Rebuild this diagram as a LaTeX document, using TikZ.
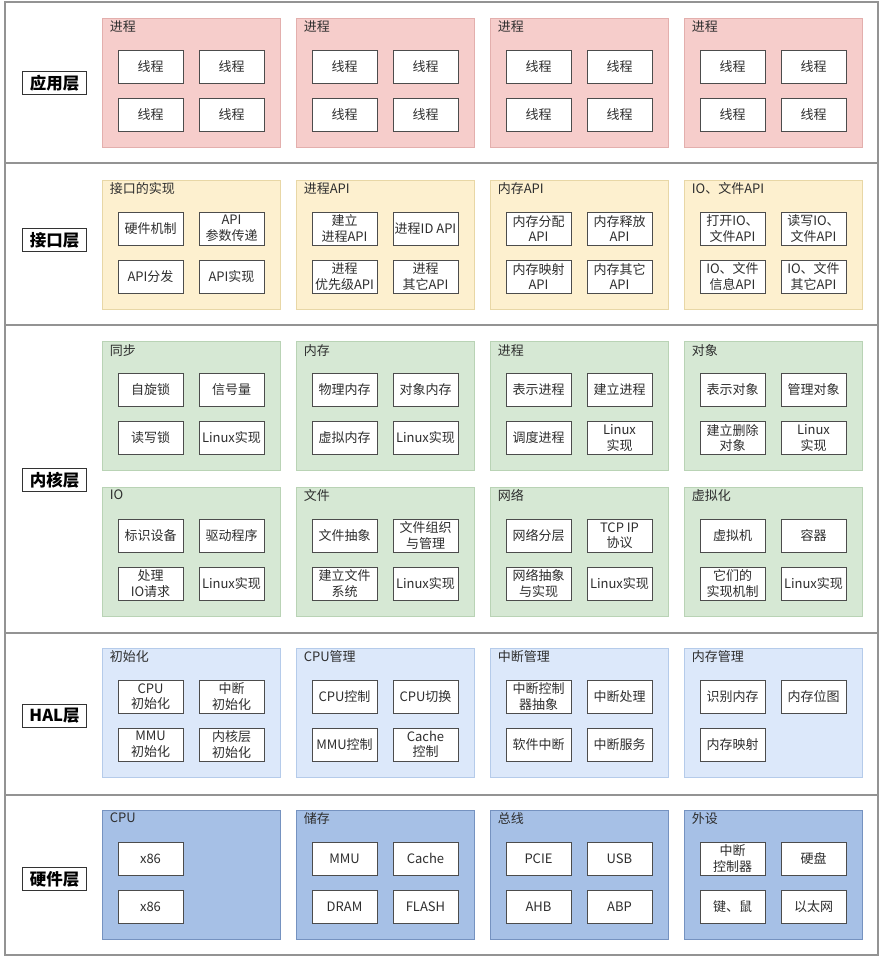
\documentclass[tikz,border=0pt]{standalone}
\usepackage{fontspec}
\setmainfont{Noto Sans CJK SC}
\usepackage{tikz}
\usetikzlibrary{shapes,positioning,backgrounds}

\definecolor{appFill}{HTML}{F6CDCB}
\definecolor{appLine}{HTML}{E3AFAD}
\definecolor{apiFill}{HTML}{FDF0CF}
\definecolor{apiLine}{HTML}{E8D7A6}
\definecolor{kernFill}{HTML}{D6E8D4}
\definecolor{kernLine}{HTML}{B9D3B5}
\definecolor{halFill}{HTML}{DCE8FA}
\definecolor{halLine}{HTML}{B5CBEA}
\definecolor{hwFill}{HTML}{A6C0E6}
\definecolor{hwLine}{HTML}{7592C0}
\definecolor{txt}{HTML}{2E2E2E}

\begin{document}
\begin{tikzpicture}[x=1pt, y=-1pt]
		\tikzstyle{Row}		= [rectangle, draw=gray!85, line width=1.1pt, fill=white, minimum width=873pt, inner sep=0pt]
		\tikzstyle{Layer}	= [rectangle, draw=black!80, line width=1pt, fill=white, inner xsep=7pt, inner ysep=3.5pt, font=\fontsize{16.5}{18}\selectfont\bfseries, text=black]
		\tikzstyle{Group}	= [rectangle, line width=0.8pt, minimum width=178pt, minimum height=129pt, inner sep=0pt]
		\tikzstyle{Title}	= [anchor=north west, inner sep=0pt, xshift=8pt, yshift=-3pt, font=\fontsize{13}{15}\selectfont, text=txt]
		\tikzstyle{Cell}	= [rectangle, draw=black!70, line width=1pt, fill=white, minimum width=65pt, minimum height=33pt, inner sep=1pt, align=center, font=\fontsize{13}{15.5}\selectfont, text=txt]
		\tikzstyle{App}		= [draw=appLine, fill=appFill]
		\tikzstyle{Api}		= [draw=apiLine, fill=apiFill]
		\tikzstyle{Kern}	= [draw=kernLine, fill=kernFill]
		\tikzstyle{Hal}		= [draw=halLine, fill=halFill]
		\tikzstyle{Hw}		= [draw=hwLine, fill=hwFill]

		\useasboundingbox (0,0) rectangle (883,959);

		% layer rows
		\node (rApp) at (441.5, 82.5) [Row, minimum height=161pt] {};
		\node (rApi) at (441.5, 244) [Row, minimum height=162pt] {};
		\node (rKern) at (441.5, 479) [Row, minimum height=308pt] {};
		\node (rHal) at (441.5, 714) [Row, minimum height=162pt] {};
		\node (rHw) at (441.5, 875) [Row, minimum height=160pt] {};

		\node (lApp) at (54.5, 83) [Layer] {应用层};
		\node (lApi) at (54.5, 240) [Layer] {接口层};
		\node (lKern) at (54.5, 480) [Layer] {内核层};
		\node (lHal) at (54.5, 716) [Layer] {HAL层};
		\node (lHw) at (54.5, 879) [Layer] {硬件层};

		% application layer
		\node (gApp1) at (191, 82.5) [Group][App] {};
		\node (gApp2) at (385, 82.5) [Group][App] {};
		\node (gApp3) at (579, 82.5) [Group][App] {};
		\node (gApp4) at (773, 82.5) [Group][App] {};
		\node (tApp1) at (gApp1.north west) [Title] {进程};
		\node (tApp2) at (gApp2.north west) [Title] {进程};
		\node (tApp3) at (gApp3.north west) [Title] {进程};
		\node (tApp4) at (gApp4.north west) [Title] {进程};

		\node (cApp1a) at (150.5, 66.5) [Cell] {线程};
		\node (cApp1b) at (231.5, 66.5) [Cell] {线程};
		\node (cApp1c) at (150.5, 114.5) [Cell] {线程};
		\node (cApp1d) at (231.5, 114.5) [Cell] {线程};
		\node (cApp2a) at (344.5, 66.5) [Cell] {线程};
		\node (cApp2b) at (425.5, 66.5) [Cell] {线程};
		\node (cApp2c) at (344.5, 114.5) [Cell] {线程};
		\node (cApp2d) at (425.5, 114.5) [Cell] {线程};
		\node (cApp3a) at (538.5, 66.5) [Cell] {线程};
		\node (cApp3b) at (619.5, 66.5) [Cell] {线程};
		\node (cApp3c) at (538.5, 114.5) [Cell] {线程};
		\node (cApp3d) at (619.5, 114.5) [Cell] {线程};
		\node (cApp4a) at (732.5, 66.5) [Cell] {线程};
		\node (cApp4b) at (813.5, 66.5) [Cell] {线程};
		\node (cApp4c) at (732.5, 114.5) [Cell] {线程};
		\node (cApp4d) at (813.5, 114.5) [Cell] {线程};

		% interface layer
		\node (gApi1) at (191, 244.5) [Group][Api] {};
		\node (gApi2) at (385, 244.5) [Group][Api] {};
		\node (gApi3) at (579, 244.5) [Group][Api] {};
		\node (gApi4) at (773, 244.5) [Group][Api] {};
		\node (tApi1) at (gApi1.north west) [Title] {接口的实现};
		\node (tApi2) at (gApi2.north west) [Title] {进程API};
		\node (tApi3) at (gApi3.north west) [Title] {内存API};
		\node (tApi4) at (gApi4.north west) [Title] {IO、文件API};

		\node (cApi1a) at (150.5, 228.5) [Cell] {硬件机制};
		\node (cApi1b) at (231.5, 228.5) [Cell] {API\\参数传递};
		\node (cApi1c) at (150.5, 276.5) [Cell] {API分发};
		\node (cApi1d) at (231.5, 276.5) [Cell] {API实现};
		\node (cApi2a) at (344.5, 228.5) [Cell] {建立\\进程API};
		\node (cApi2b) at (425.5, 228.5) [Cell] {进程ID API};
		\node (cApi2c) at (344.5, 276.5) [Cell] {进程\\优先级API};
		\node (cApi2d) at (425.5, 276.5) [Cell] {进程\\其它API};
		\node (cApi3a) at (538.5, 228.5) [Cell] {内存分配\\API};
		\node (cApi3b) at (619.5, 228.5) [Cell] {内存释放\\API};
		\node (cApi3c) at (538.5, 276.5) [Cell] {内存映射\\API};
		\node (cApi3d) at (619.5, 276.5) [Cell] {内存其它\\API};
		\node (cApi4a) at (732.5, 228.5) [Cell] {打开IO、\\文件API};
		\node (cApi4b) at (813.5, 228.5) [Cell] {读写IO、\\文件API};
		\node (cApi4c) at (732.5, 276.5) [Cell] {IO、文件\\信息API};
		\node (cApi4d) at (813.5, 276.5) [Cell] {IO、文件\\其它API};

		% kernel layer, upper row
		\node (gKern1) at (191, 406) [Group][Kern] {};
		\node (gKern2) at (385, 406) [Group][Kern] {};
		\node (gKern3) at (579, 406) [Group][Kern] {};
		\node (gKern4) at (773, 406) [Group][Kern] {};
		\node (tKern1) at (gKern1.north west) [Title] {同步};
		\node (tKern2) at (gKern2.north west) [Title] {内存};
		\node (tKern3) at (gKern3.north west) [Title] {进程};
		\node (tKern4) at (gKern4.north west) [Title] {对象};

		\node (cKern1a) at (150.5, 390) [Cell] {自旋锁};
		\node (cKern1b) at (231.5, 390) [Cell] {信号量};
		\node (cKern1c) at (150.5, 438) [Cell] {读写锁};
		\node (cKern1d) at (231.5, 438) [Cell] {Linux实现};
		\node (cKern2a) at (344.5, 390) [Cell] {物理内存};
		\node (cKern2b) at (425.5, 390) [Cell] {对象内存};
		\node (cKern2c) at (344.5, 438) [Cell] {虚拟内存};
		\node (cKern2d) at (425.5, 438) [Cell] {Linux实现};
		\node (cKern3a) at (538.5, 390) [Cell] {表示进程};
		\node (cKern3b) at (619.5, 390) [Cell] {建立进程};
		\node (cKern3c) at (538.5, 438) [Cell] {调度进程};
		\node (cKern3d) at (619.5, 438) [Cell] {Linux\\实现};
		\node (cKern4a) at (732.5, 390) [Cell] {表示对象};
		\node (cKern4b) at (813.5, 390) [Cell] {管理对象};
		\node (cKern4c) at (732.5, 438) [Cell] {建立删除\\对象};
		\node (cKern4d) at (813.5, 438) [Cell] {Linux\\实现};

		% kernel layer, lower row
		\node (gKern5) at (191, 551.5) [Group][Kern] {};
		\node (gKern6) at (385, 551.5) [Group][Kern] {};
		\node (gKern7) at (579, 551.5) [Group][Kern] {};
		\node (gKern8) at (773, 551.5) [Group][Kern] {};
		\node (tKern5) at (gKern5.north west) [Title] {IO};
		\node (tKern6) at (gKern6.north west) [Title] {文件};
		\node (tKern7) at (gKern7.north west) [Title] {网络};
		\node (tKern8) at (gKern8.north west) [Title] {虚拟化};

		\node (cKern5a) at (150.5, 535.5) [Cell] {标识设备};
		\node (cKern5b) at (231.5, 535.5) [Cell] {驱动程序};
		\node (cKern5c) at (150.5, 583.5) [Cell] {处理\\IO请求};
		\node (cKern5d) at (231.5, 583.5) [Cell] {Linux实现};
		\node (cKern6a) at (344.5, 535.5) [Cell] {文件抽象};
		\node (cKern6b) at (425.5, 535.5) [Cell] {文件组织\\与管理};
		\node (cKern6c) at (344.5, 583.5) [Cell] {建立文件\\系统};
		\node (cKern6d) at (425.5, 583.5) [Cell] {Linux实现};
		\node (cKern7a) at (538.5, 535.5) [Cell] {网络分层};
		\node (cKern7b) at (619.5, 535.5) [Cell] {TCP IP\\协议};
		\node (cKern7c) at (538.5, 583.5) [Cell] {网络抽象\\与实现};
		\node (cKern7d) at (619.5, 583.5) [Cell] {Linux实现};
		\node (cKern8a) at (732.5, 535.5) [Cell] {虚拟机};
		\node (cKern8b) at (813.5, 535.5) [Cell] {容器};
		\node (cKern8c) at (732.5, 583.5) [Cell] {它们的\\实现机制};
		\node (cKern8d) at (813.5, 583.5) [Cell] {Linux实现};

		% HAL layer
		\node (gHal1) at (191, 712.5) [Group][Hal] {};
		\node (gHal2) at (385, 712.5) [Group][Hal] {};
		\node (gHal3) at (579, 712.5) [Group][Hal] {};
		\node (gHal4) at (773, 712.5) [Group][Hal] {};
		\node (tHal1) at (gHal1.north west) [Title] {初始化};
		\node (tHal2) at (gHal2.north west) [Title] {CPU管理};
		\node (tHal3) at (gHal3.north west) [Title] {中断管理};
		\node (tHal4) at (gHal4.north west) [Title] {内存管理};

		\node (cHal1a) at (150.5, 696.5) [Cell] {CPU\\初始化};
		\node (cHal1b) at (231.5, 696.5) [Cell] {中断\\初始化};
		\node (cHal1c) at (150.5, 744.5) [Cell] {MMU\\初始化};
		\node (cHal1d) at (231.5, 744.5) [Cell] {内核层\\初始化};
		\node (cHal2a) at (344.5, 696.5) [Cell] {CPU控制};
		\node (cHal2b) at (425.5, 696.5) [Cell] {CPU切换};
		\node (cHal2c) at (344.5, 744.5) [Cell] {MMU控制};
		\node (cHal2d) at (425.5, 744.5) [Cell] {Cache\\控制};
		\node (cHal3a) at (538.5, 696.5) [Cell] {中断控制\\器抽象};
		\node (cHal3b) at (619.5, 696.5) [Cell] {中断处理};
		\node (cHal3c) at (538.5, 744.5) [Cell] {软件中断};
		\node (cHal3d) at (619.5, 744.5) [Cell] {中断服务};
		\node (cHal4a) at (732.5, 696.5) [Cell] {识别内存};
		\node (cHal4b) at (813.5, 696.5) [Cell] {内存位图};
		\node (cHal4c) at (732.5, 744.5) [Cell] {内存映射};

		% hardware layer
		\node (gHw1) at (191, 874.5) [Group][Hw] {};
		\node (gHw2) at (385, 874.5) [Group][Hw] {};
		\node (gHw3) at (579, 874.5) [Group][Hw] {};
		\node (gHw4) at (773, 874.5) [Group][Hw] {};
		\node (tHw1) at (gHw1.north west) [Title] {CPU};
		\node (tHw2) at (gHw2.north west) [Title] {储存};
		\node (tHw3) at (gHw3.north west) [Title] {总线};
		\node (tHw4) at (gHw4.north west) [Title] {外设};

		\node (cHw1a) at (150.5, 858.5) [Cell] {x86};
		\node (cHw1c) at (150.5, 906.5) [Cell] {x86};
		\node (cHw2a) at (344.5, 858.5) [Cell] {MMU};
		\node (cHw2b) at (425.5, 858.5) [Cell] {Cache};
		\node (cHw2c) at (344.5, 906.5) [Cell] {DRAM};
		\node (cHw2d) at (425.5, 906.5) [Cell] {FLASH};
		\node (cHw3a) at (538.5, 858.5) [Cell] {PCIE};
		\node (cHw3b) at (619.5, 858.5) [Cell] {USB};
		\node (cHw3c) at (538.5, 906.5) [Cell] {AHB};
		\node (cHw3d) at (619.5, 906.5) [Cell] {ABP};
		\node (cHw4a) at (732.5, 858.5) [Cell] {中断\\控制器};
		\node (cHw4b) at (813.5, 858.5) [Cell] {硬盘};
		\node (cHw4c) at (732.5, 906.5) [Cell] {键、鼠};
		\node (cHw4d) at (813.5, 906.5) [Cell] {以太网};
	\end{tikzpicture}
\end{document}
